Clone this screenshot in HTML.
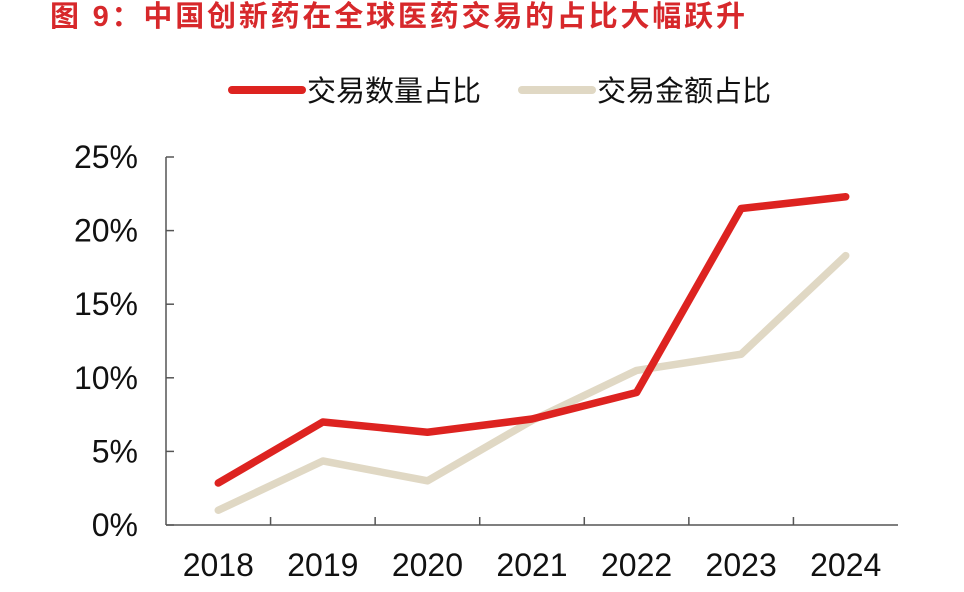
<!DOCTYPE html>
<html><head><meta charset="utf-8"><style>
body{margin:0;background:#fff;}
svg text{font-family:"Liberation Sans","Noto Sans CJK SC",sans-serif;}
</style></head><body>
<svg width="964" height="587" viewBox="0 0 964 587">
<text x="50" y="26" font-size="29" font-weight="bold" fill="#d7282b" textLength="695">图 9：中国创新药在全球医药交易的占比大幅跃升</text>
<g>
<line x1="232" y1="90" x2="302" y2="90" stroke="#dd2320" stroke-width="8" stroke-linecap="round"/>
<text x="307" y="101" font-size="29" fill="#111">交易数量占比</text>
<line x1="522" y1="90" x2="592" y2="90" stroke="#e0d8c4" stroke-width="8" stroke-linecap="round"/>
<text x="597" y="101" font-size="29" fill="#111">交易金额占比</text>
</g>
<g id="axes"></g>
<g id="series"></g>
</svg>
<script>
const categories=["2018","2019","2020","2021","2022","2023","2024"];
const countShare=[2.85,7.0,6.3,7.2,9.0,21.5,22.3];
const valueShare=[1.0,4.35,3.0,7.1,10.5,11.6,18.3];
const yTicks=[0,5,10,15,20,25];
const NS="http://www.w3.org/2000/svg";
const x0=166,x1=898,yTop=157,yBot=525,yMax=25;
const band=(x1-x0)/categories.length;
const xs=i=>x0+band*(i+0.5);
const ys=v=>yBot-(v/yMax)*(yBot-yTop);
function mk(tag,attrs,parent){const e=document.createElementNS(NS,tag);for(const k in attrs)e.setAttribute(k,attrs[k]);parent.appendChild(e);return e;}
const ax=document.getElementById('axes');
let e=mk('line',{x1:x0,y1:yTop,x2:x0,y2:yBot,stroke:'#555','stroke-width':1.5},ax);


e=mk('line',{x1:x0,y1:yBot,x2:x1,y2:yBot,stroke:'#555','stroke-width':1.5},ax);


yTicks.forEach(t=>{
 const y=ys(t);
 let l=mk('line',{x1:x0,y1:y,x2:x0+8,y2:y,stroke:'#555','stroke-width':1.5},ax);
 
 
 let tx=mk('text',{x:138,y:y+11,'font-size':32,'text-anchor':'end',fill:'#111'},ax);
 tx.textContent=t+'%';
 
 
});
categories.forEach((c,i)=>{
 if(i>0){let l=mk('line',{x1:x0+band*i,y1:yBot,x2:x0+band*i,y2:yBot-8,stroke:'#555','stroke-width':1.5},ax);
 
 }
 let tx=mk('text',{x:xs(i),y:576,'font-size':32,'text-anchor':'middle',fill:'#111'},ax);
 tx.textContent=c;
 
 
});
const sg=document.getElementById('series');
function line(data,color,name){
 const p=mk('polyline',{points:data.map((v,i)=>xs(i)+','+ys(v)).join(' '),fill:'none',stroke:color,'stroke-width':7.5,'stroke-linecap':'round','stroke-linejoin':'round'},sg);
 
 
}
line(valueShare,'#e0d8c4','series-value-share');
line(countShare,'#dd2320','series-count-share');
</script>
</body></html>
